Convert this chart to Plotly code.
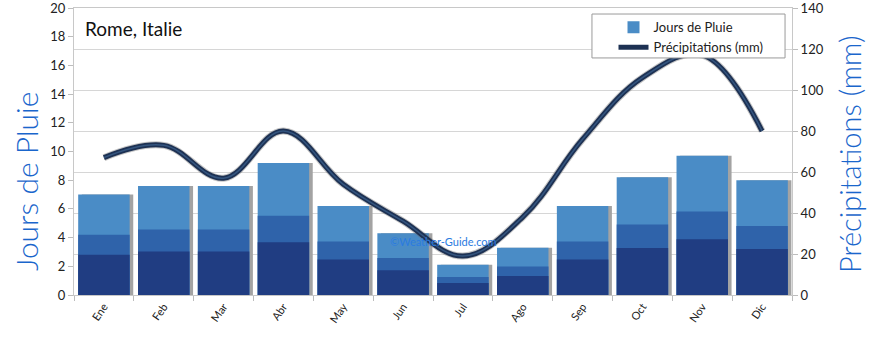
import plotly.graph_objects as go

# Monthly climate data for Rome
months = ["Ene", "Feb", "Mar", "Abr", "May", "Jun", "Jul", "Ago", "Sep", "Oct", "Nov", "Dic"]
rain_days = [7.0, 7.6, 7.6, 9.2, 6.2, 4.3, 2.1, 3.3, 6.2, 8.2, 9.7, 8.0]
precip_mm = [67, 73, 57, 80, 54, 36, 19, 38, 76, 106, 117, 80]
days_ticks = [0, 2, 4, 6, 8, 10, 12, 14, 16, 18, 20]
mm_ticks = [0, 20, 40, 60, 80, 100, 120, 140]

FONT = "Lato"
TITLE_BLUE = "#1a66cc"

BAR_W = 0.86
fig = go.Figure()

# soft drop shadow on the right of each bar
fig.add_trace(go.Bar(
    x=months, y=rain_days, width=BAR_W, offset=-BAR_W / 2 + 0.06,
    marker=dict(color="#a3a3a3", line=dict(width=0)),
    showlegend=False, hoverinfo="skip", yaxis="y",
))
# banded bar body: light top, medium middle, dark base
fig.add_trace(go.Bar(
    x=months, y=rain_days, width=BAR_W, offset=-BAR_W / 2,
    marker=dict(color="#4a8cc6", line=dict(width=0)),
    name="Jours de Pluie", yaxis="y",
))
fig.add_trace(go.Bar(
    x=months, y=[v * 0.6 for v in rain_days], width=BAR_W, offset=-BAR_W / 2,
    marker=dict(color="#2f63aa", line=dict(width=0)),
    showlegend=False, hoverinfo="skip", yaxis="y",
))
fig.add_trace(go.Bar(
    x=months, y=[v * 0.4 for v in rain_days], width=BAR_W, offset=-BAR_W / 2,
    marker=dict(color="#203d82", line=dict(width=0)),
    showlegend=False, hoverinfo="skip", yaxis="y",
))

# precipitation curve with a faint shadow and a two-tone stroke
fig.add_trace(go.Scatter(
    x=months, y=precip_mm, mode="lines", yaxis="y2",
    line=dict(color="rgba(110,110,110,0.4)", width=7, shape="spline", smoothing=1.1),
    showlegend=False, hoverinfo="skip",
))
fig.add_trace(go.Scatter(
    x=months, y=precip_mm, mode="lines", yaxis="y2",
    line=dict(color="#1d3153", width=5, shape="spline", smoothing=1.1),
    name="Précipitations (mm)",
))
fig.add_trace(go.Scatter(
    x=months, y=precip_mm, mode="lines", yaxis="y2",
    line=dict(color="#34557f", width=1.5, shape="spline", smoothing=1.1),
    showlegend=False, hoverinfo="skip",
))

fig.update_layout(
    width=870, height=339,
    margin=dict(l=74, r=78, t=8, b=44, autoexpand=False),
    paper_bgcolor="white", plot_bgcolor="white",
    barmode="overlay",
    font=dict(family=FONT, color="#222", size=12),
    showlegend=True,
    legend=dict(
        x=0.7514, y=0.985, xanchor="left", yanchor="top",
        bgcolor="rgba(0,0,0,0)", borderwidth=0,
        font=dict(family=FONT, size=13, color="#222"),
        traceorder="normal",
    ),
    xaxis=dict(
        type="category", tickson="boundaries", ticks="outside", ticklen=5,
        tickcolor="#bdbdbd", tickangle=-55, showline=True, linecolor="#c8c8c8",
        mirror=True, showgrid=False, tickfont=dict(size=11, color="#222"),
        range=[-0.5, 11.5],
    ),
    yaxis=dict(
        range=[0, 20], tickvals=days_ticks, showgrid=False, zeroline=False,
        ticks="outside", ticklen=5, tickcolor="#bdbdbd",
        showline=True, linecolor="#c8c8c8", ticklabeloverflow="allow",
        tickfont=dict(size=13, color="#222"),
    ),
    yaxis2=dict(
        range=[0, 140], tickvals=mm_ticks, overlaying="y", side="right",
        showgrid=True, gridcolor="#d6d6d6", gridwidth=1, zeroline=False,
        ticks="outside", ticklen=5, tickcolor="#bdbdbd",
        showline=True, linecolor="#c8c8c8", ticklabeloverflow="allow",
        tickfont=dict(size=13, color="#222"),
    ),
    shapes=[
        # legend frame
        dict(type="rect", xref="paper", yref="paper",
             x0=0.7214, x1=0.9903, y0=0.826, y1=0.979,
             line=dict(color="#9a9a9a", width=1), fillcolor="white", layer="above"),
    ],
    annotations=[
        dict(text="Rome, Italie", xref="paper", yref="paper", x=0.0125, y=0.93,
             xanchor="left", yanchor="middle", showarrow=False,
             font=dict(family=FONT, size=19, color="#111")),
        dict(text="©Weather-Guide.com", xref="paper", yref="paper", x=0.514, y=0.185,
             xanchor="center", yanchor="middle", showarrow=False,
             font=dict(family=FONT, size=11, color="#2a7be0")),
        # axis titles
        dict(text="Jours de Pluie", xref="paper", yref="paper", x=-0.0668, y=0.394,
             xanchor="center", yanchor="middle", textangle=-90, showarrow=False,
             font=dict(family=FONT, size=30, color=TITLE_BLUE, weight=300)),
        dict(text="Précipitations (mm)", xref="paper", yref="paper", x=1.0808, y=0.488,
             xanchor="center", yanchor="middle", textangle=-90, showarrow=False,
             font=dict(family=FONT, size=29, color=TITLE_BLUE, weight=300)),
    ],
)

fig.write_html("out.html")
